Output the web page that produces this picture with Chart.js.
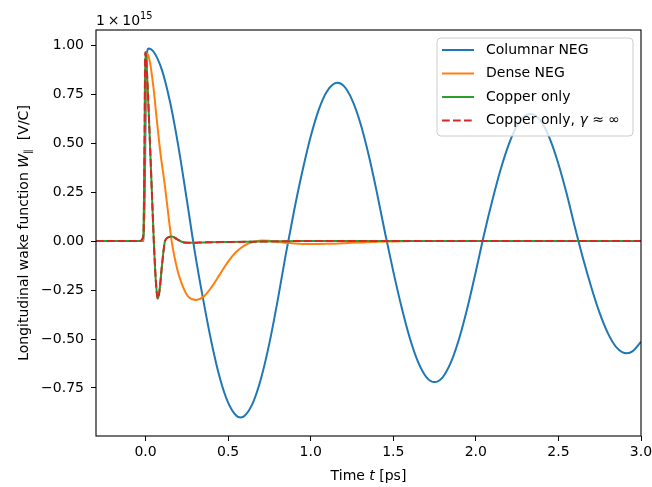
<!DOCTYPE html>
<html>
<head>
<meta charset="utf-8">
<script src="https://cdn.jsdelivr.net/npm/chart.js@4.4.0/dist/chart.umd.min.js"></script>
<style>
html, body { margin: 0; padding: 0; background: #fff; }
canvas { display: block; }
</style>
</head>
<body>
<canvas id="graficoWake" width="652" height="487"></canvas>
<script>
// wake function, units of 1e15 V/C, time in ps
var tempoColunar = [-0.3, -0.01, 0.005, 0.017, 0.05, 0.1, 0.15, 0.2, 0.25, 0.3, 0.35, 0.4, 0.45, 0.5, 0.55, 0.575, 0.6, 0.65, 0.7, 0.75, 0.8, 0.85, 0.9, 0.95, 1.0, 1.05, 1.1, 1.16, 1.2, 1.25, 1.3, 1.35, 1.4, 1.45, 1.5, 1.55, 1.6, 1.65, 1.7, 1.75, 1.8, 1.85, 1.9, 1.95, 2.0, 2.05, 2.1, 2.15, 2.2, 2.25, 2.3, 2.335, 2.4, 2.45, 2.5, 2.55, 2.6, 2.65, 2.7, 2.75, 2.8, 2.85, 2.915, 2.95, 3.0];
var wakeColunar = [0, 0, 0.9, 0.983, 0.965, 0.871, 0.703, 0.477, 0.21, -0.064, -0.303, -0.52, -0.699, -0.825, -0.892, -0.9, -0.892, -0.826, -0.699, -0.521, -0.303, -0.064, 0.157, 0.357, 0.533, 0.673, 0.766, 0.808, 0.792, 0.722, 0.604, 0.443, 0.251, 0.042, -0.155, -0.337, -0.495, -0.617, -0.694, -0.72, -0.694, -0.617, -0.495, -0.337, -0.155, 0.035, 0.208, 0.365, 0.495, 0.59, 0.641, 0.648, 0.604, 0.517, 0.393, 0.241, 0.07, -0.092, -0.238, -0.368, -0.471, -0.541, -0.573, -0.562, -0.514];

var tempoDenso = [-0.3, -0.012, -0.004, 0.007, 0.025, 0.047, 0.068, 0.09, 0.118, 0.14, 0.158, 0.18, 0.2, 0.23, 0.26, 0.306, 0.35, 0.4, 0.45, 0.5, 0.55, 0.6, 0.65, 0.7, 0.75, 0.8, 0.9, 1.0, 1.1, 1.2, 1.3, 1.4, 1.5, 1.6, 3.0];
var wakeDenso = [0, 0, 0.5, 0.958, 0.92, 0.79, 0.62, 0.45, 0.277, 0.12, 0, -0.1, -0.17, -0.24, -0.285, -0.301, -0.285, -0.235, -0.17, -0.105, -0.055, -0.022, -0.005, 0.003, 0.002, -0.005, -0.012, -0.015, -0.014, -0.011, -0.007, -0.004, -0.002, 0, 0];

var tempoCobre = [-0.3, -0.03, -0.02, -0.012, -0.006, -0.002, 0.004, 0.012, 0.022, 0.037, 0.05, 0.062, 0.074, 0.085, 0.1, 0.118, 0.14, 0.16, 0.19, 0.22, 0.26, 0.29, 0.35, 0.5, 0.7, 0.95, 3.0];
var wakeCobre = [0, 0, 0.01, 0.05, 0.5, 0.963, 0.93, 0.8, 0.6, 0.277, 0, -0.2, -0.295, -0.25, -0.12, 0, 0.02, 0.023, 0.01, -0.004, -0.009, -0.009, -0.007, -0.005, -0.003, 0, 0];

var tempoCobreInf = [-0.3, -0.03, -0.02, -0.012, -0.006, -0.002, 0.004, 0.012, 0.022, 0.037, 0.05, 0.062, 0.074, 0.085, 0.1, 0.118, 0.14, 0.16, 0.19, 0.22, 0.26, 0.29, 0.35, 0.5, 0.7, 0.95, 3.0];
var wakeCobreInf = [0, 0, 0.01, 0.05, 0.5, 0.963, 0.93, 0.8, 0.6, 0.277, 0, -0.2, -0.295, -0.25, -0.12, 0, 0.02, 0.023, 0.01, -0.004, -0.009, -0.009, -0.007, -0.005, -0.003, 0, 0];

var ticksX = [0, 0.5, 1.0, 1.5, 2.0, 2.5, 3.0];
var ticksY = [-0.75, -0.5, -0.25, 0, 0.25, 0.5, 0.75, 1.0];

var FONTE = "DejaVu Sans";

function pontos(tempo, wake) {
    var lista = [];
    for (var i = 0; i < tempo.length; i++) {
        lista.push({ x: tempo[i], y: wake[i] });
    }
    return lista;
}

function menos(txt) {
    return txt.replace("-", "\u2212");
}

// draws a sequence of [text, style, sizeFactor, dy] pieces starting at x
function textoRico(ctx, partes, x, y) {
    for (var i = 0; i < partes.length; i++) {
        var p = partes[i];
        ctx.font = (p[1] || "") + " " + (14 * (p[2] || 1)) + "px '" + FONTE + "'";
        ctx.fillText(p[0], x, y + (p[3] || 0));
        x += ctx.measureText(p[0]).width;
    }
}

function larguraRica(ctx, partes) {
    var w = 0;
    for (var i = 0; i < partes.length; i++) {
        var p = partes[i];
        ctx.font = (p[1] || "") + " " + (14 * (p[2] || 1)) + "px '" + FONTE + "'";
        w += ctx.measureText(p[0]).width;
    }
    return w;
}

var legendaPartes = [
    [["Columnar NEG"]],
    [["Dense NEG"]],
    [["Copper only"]],
    [["Copper only, "], ["\u03b3", "italic"], [" \u2248 \u221e"]]
];

var moldura = {
    id: "moldura",
    afterDraw: function (chart) {
        var ctx = chart.ctx;
        var a = chart.chartArea;
        ctx.save();

        // frame around the axes
        ctx.strokeStyle = "#000";
        ctx.lineWidth = 1.1;
        ctx.strokeRect(a.left, a.top, a.right - a.left, a.bottom - a.top);

        ctx.fillStyle = "#000";
        ctx.textBaseline = "alphabetic";
        ctx.textAlign = "left";

        // offset text above the y axis
        textoRico(ctx, [["1\u2009\u00d7\u200910"], ["15", "", 0.7, -6]], a.left, 25);

        // x axis title
        var partesX = [["Time "], ["t", "italic"], [" [ps]"]];
        var wX = larguraRica(ctx, partesX);
        textoRico(ctx, partesX, (a.left + a.right) / 2 - wX / 2, 480);

        // y axis title
        var partesY = [["Longitudinal wake function "], ["W", "italic"], ["\u2225", "", 0.7, 3], ["  [V/C]"]];
        var wY = larguraRica(ctx, partesY);
        ctx.save();
        ctx.translate(28, (a.top + a.bottom) / 2);
        ctx.rotate(-Math.PI / 2);
        textoRico(ctx, partesY, -wY / 2, 0);
        ctx.restore();

        // legend
        var bx = 437, by = 38, bw = 196, bh = 98, r = 4;
        ctx.beginPath();
        ctx.moveTo(bx + r, by);
        ctx.arcTo(bx + bw, by, bx + bw, by + bh, r);
        ctx.arcTo(bx + bw, by + bh, bx, by + bh, r);
        ctx.arcTo(bx, by + bh, bx, by, r);
        ctx.arcTo(bx, by, bx + bw, by, r);
        ctx.closePath();
        ctx.fillStyle = "rgba(255,255,255,0.8)";
        ctx.fill();
        ctx.strokeStyle = "#cccccc";
        ctx.lineWidth = 1;
        ctx.stroke();

        for (var i = 0; i < chart.data.datasets.length; i++) {
            var ds = chart.data.datasets[i];
            var yy = 50 + i * 23.5;
            ctx.beginPath();
            ctx.strokeStyle = ds.borderColor;
            ctx.lineWidth = ds.borderWidth;
            ctx.setLineDash(ds.borderDash || []);
            ctx.moveTo(442, yy);
            ctx.lineTo(474, yy);
            ctx.stroke();
            ctx.setLineDash([]);
            ctx.fillStyle = "#000";
            ctx.textBaseline = "middle";
            textoRico(ctx, legendaPartes[i], 486, yy);
        }
        ctx.restore();
    }
};

new Chart(document.getElementById("graficoWake"), {
    type: "line",
    data: {
        datasets: [{
            label: "Columnar NEG",
            data: pontos(tempoColunar, wakeColunar),
            borderColor: "#1f77b4",
            borderWidth: 2,
            order: 4
        }, {
            label: "Dense NEG",
            data: pontos(tempoDenso, wakeDenso),
            borderColor: "#ff7f0e",
            borderWidth: 2,
            order: 3
        }, {
            label: "Copper only",
            data: pontos(tempoCobre, wakeCobre),
            borderColor: "#2ca02c",
            borderWidth: 2,
            order: 2
        }, {
            label: "Copper only, \u03b3 \u2248 \u221e",
            data: pontos(tempoCobreInf, wakeCobreInf),
            borderColor: "#d62728",
            borderWidth: 2,
            borderDash: [7.7, 3.3],
            order: 1
        }]
    },
    options: {
        responsive: false,
        animation: false,
        devicePixelRatio: 1,
        parsing: false,
        layout: { padding: { left: 0, right: 11, top: 30, bottom: 0 } },
        elements: {
            point: { radius: 0 },
            line: { cubicInterpolationMode: "monotone", fill: false }
        },
        plugins: {
            legend: { display: false },
            tooltip: { enabled: false }
        },
        scales: {
            x: {
                type: "linear",
                min: -0.3,
                max: 3.0,
                afterBuildTicks: function (axis) {
                    axis.ticks = ticksX.map(function (v) { return { value: v }; });
                },
                afterFit: function (axis) {
                    axis.height = 51;
                    axis.paddingLeft = 0;
                    axis.paddingRight = 0;
                },
                ticks: {
                    color: "#000",
                    padding: 3,
                    maxRotation: 0,
                    font: { family: FONTE, size: 14 },
                    callback: function (v) { return menos(v.toFixed(1)); }
                },
                grid: { drawOnChartArea: false, tickLength: 5, color: "#000", tickWidth: 1 },
                border: { display: false }
            },
            y: {
                type: "linear",
                min: -0.995,
                max: 1.077,
                afterBuildTicks: function (axis) {
                    axis.ticks = ticksY.map(function (v) { return { value: v }; });
                },
                afterFit: function (axis) {
                    axis.width = 96;
                    axis.paddingTop = 0;
                    axis.paddingBottom = 0;
                },
                ticks: {
                    color: "#000",
                    padding: 7,
                    font: { family: FONTE, size: 14 },
                    callback: function (v) { return menos(v.toFixed(2)); }
                },
                grid: { drawOnChartArea: false, tickLength: 5, color: "#000", tickWidth: 1 },
                border: { display: false }
            }
        }
    },
    plugins: [moldura]
});
</script>
</body>
</html>
